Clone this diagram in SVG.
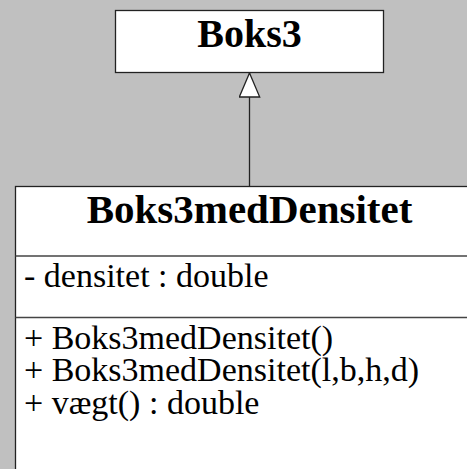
<svg xmlns="http://www.w3.org/2000/svg" width="467" height="469" viewBox="0 0 467 469">
  <style>
    .box { fill: #ffffff; stroke: #222222; stroke-width: 1.3; }
    .sep { stroke: #444444; stroke-width: 1.3; fill: none; }
    .edge { stroke: #222222; stroke-width: 1.3; fill: none; }
    .title { font-family: "Liberation Serif", "Times New Roman", serif; font-weight: bold; font-size: 40px; fill: #000; text-anchor: middle; }
    .member { font-family: "Liberation Serif", "Times New Roman", serif; font-size: 34px; fill: #000; }
  </style>
  <defs>
    <!-- hollow triangle for generalization, tip along +x -->
    <marker id="inherit" viewBox="0 0 26 22" refX="25" refY="11" markerWidth="26" markerHeight="22" markerUnits="userSpaceOnUse" orient="auto">
      <path d="M25,11 L1,0.8 L1,21.2 Z" fill="#ffffff" stroke="#222222" stroke-width="1.3"/>
    </marker>
  </defs>
  <rect x="0" y="0" width="467" height="469" fill="#c0c0c0"/>

  <g id="connectors">
    <line class="edge" x1="249.5" y1="186.5" x2="249.5" y2="73" marker-end="url(#inherit)"/>
  </g>

  <g id="Boks3">
    <rect class="box" x="115.5" y="10.5" width="268" height="62"/>
    <text class="title" x="249.5" y="46.5">Boks3</text>
  </g>

  <g id="Boks3medDensitet">
    <rect class="box" x="15.5" y="186.5" width="470" height="300"/>
    <line class="sep" x1="15.5" y1="256" x2="467" y2="256"/>
    <line class="sep" x1="15.5" y1="317.5" x2="467" y2="317.5"/>
    <text class="title" x="249.5" y="223" style="font-size:41px">Boks3medDensitet</text>
    <text class="member" x="24" y="287">- densitet : double</text>
    <text class="member" x="24" y="348.5">+ Boks3medDensitet()</text>
    <text class="member" x="24" y="381">+ Boks3medDensitet(l,b,h,d)</text>
    <text class="member" x="24" y="413.5">+ vægt() : double</text>
  </g>
</svg>
